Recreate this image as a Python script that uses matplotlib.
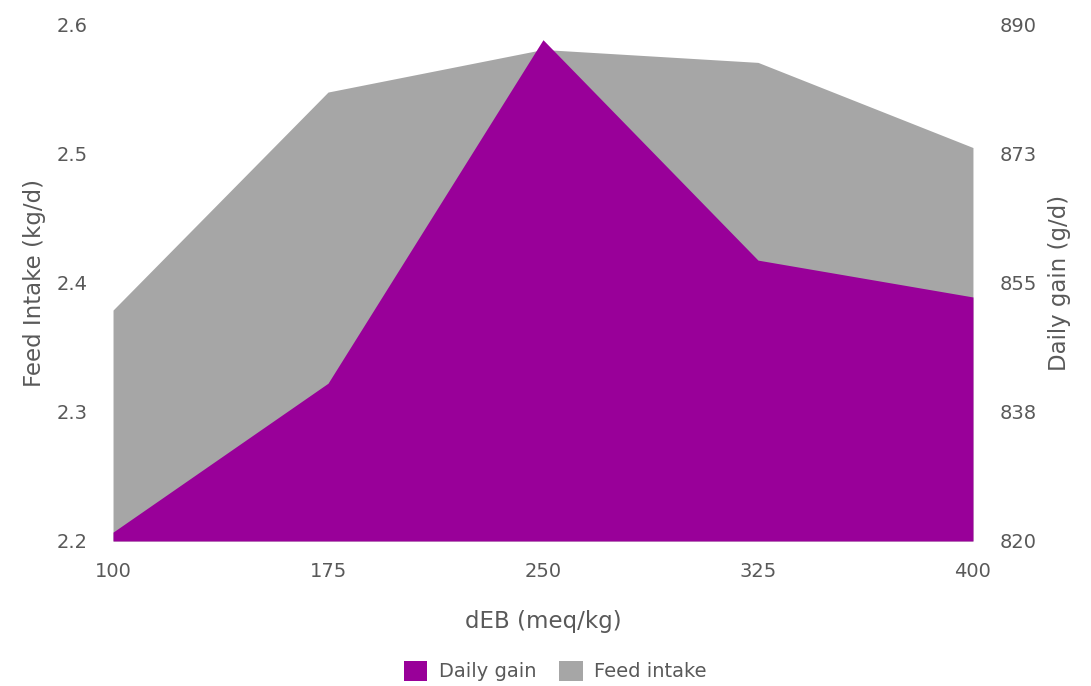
import matplotlib.pyplot as plt

# dEB levels (meq/kg)
deb = [100, 175, 250, 325, 400]
feed_intake = [2.379, 2.548, 2.581, 2.571, 2.505]   # kg/d, left axis
daily_gain = [821.2, 841.4, 888.0, 858.1, 853.1]    # g/d, right axis

left_ticks = [2.2, 2.3, 2.4, 2.5, 2.6]
right_ticks = [820, 837.5, 855, 872.5, 890]
right_labels = ["820", "838", "855", "873", "890"]

gray = "#a6a6a6"
purple = "#990099"
txt = "#595959"

plt.rcParams['font.family'] = ['DejaVu Sans']

fig = plt.figure(figsize=(10.91, 6.86), dpi=100)
ax = fig.add_axes([0.1036, 0.2114, 0.7882, 0.7522])
ax2 = ax.twinx()

ax.fill_between(deb, 2.2, feed_intake, color=gray, lw=0, label="Feed intake")
ax2.fill_between(deb, 820, daily_gain, color=purple, lw=0, label="Daily gain")

ax.set_xlim(100, 400)
ax.set_ylim(2.2, 2.6)
ax2.set_ylim(820, 890)
ax.set_xticks(deb)
ax.set_yticks(left_ticks)
ax.set_yticklabels([f"{v:.1f}" for v in left_ticks])
ax2.set_yticks(right_ticks)
ax2.set_yticklabels(right_labels)

for a in (ax, ax2):
    for s in a.spines.values():
        s.set_visible(False)
    a.tick_params(length=0, labelsize=14, colors=txt)
ax.tick_params(axis='y', pad=18)
ax2.tick_params(axis='y', pad=19)
ax.tick_params(axis='x', pad=15)

ax.set_xlabel("dEB (meq/kg)", fontsize=16.5, color=txt, labelpad=21)
ax.set_ylabel("Feed Intake (kg/d)", fontsize=16.5, color=txt, labelpad=8)
ax2.set_ylabel("Daily gain (g/d)", fontsize=16.5, color=txt, labelpad=8)

h1, l1 = ax2.get_legend_handles_labels()
h2, l2 = ax.get_legend_handles_labels()
fig.legend(h1 + h2, l1 + l2, loc="center", bbox_to_anchor=(0.509, 0.022),
           ncol=2, frameon=False, fontsize=14, labelcolor=txt,
           handlelength=1.2, handleheight=1.2, columnspacing=1.2, handletextpad=0.6)

fig.savefig("out.png", dpi=100)
